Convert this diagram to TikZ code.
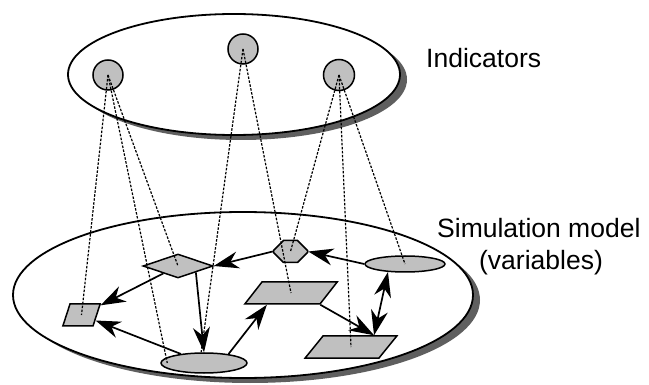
\documentclass[tikz,border=0pt]{standalone}
\usepackage{fontspec}
\setmainfont{Liberation Sans}
\usetikzlibrary{shapes.geometric,shapes.misc,shadows,arrows.meta}
\definecolor{nodegray}{HTML}{C0C0C0}
\definecolor{shadowgray}{HTML}{5F5F5F}
\tikzset{
  bigell/.style={ellipse, draw, line width=1.8pt, fill=white, inner sep=0pt,
    drop shadow={shadow xshift=7pt, shadow yshift=-5pt, fill=shadowgray, opacity=1}},
  var/.style={draw, line width=1.5pt, fill=nodegray, inner sep=0pt},
  para/.style={var, trapezium, trapezium left angle=#1, trapezium right angle=180-#1,
    inner ysep=11pt, minimum size=0pt},
  flow/.style={line width=1.7pt, ->},
  flowboth/.style={line width=1.7pt, <->},
  probe/.style={line width=1.2pt, dash pattern=on 2.5pt off 1.5pt},
  txt/.style={inner sep=0pt, font=\fontsize{26.5}{33}\selectfont}
}
\begin{document}
\begin{tikzpicture}[x=1pt,y=1pt,
  >={Stealth[length=25pt,width=17pt,inset=8pt]}]
\useasboundingbox (0,0) rectangle (649,-385);
% containers
\node[bigell, minimum width=332pt, minimum height=121pt] (top) at (234,-74.5) {};
\node[bigell, minimum width=460pt, minimum height=166pt] (model) at (243,-295) {};
% indicators
\node[var, circle, minimum size=30pt] (i1) at (108,-75) {};
\node[var, circle, minimum size=30pt] (i2) at (243,-49) {};
\node[var, circle, minimum size=31pt] (i3) at (339,-75) {};
% variables
\node[para=72, inner xsep=11.5pt] (lpar) at (81.5,-315) {};
\node[var, diamond, aspect=3, minimum width=70pt, minimum height=24pt] (dia) at (178,-266) {};
\node[var, ellipse, minimum width=86pt, minimum height=20pt] (bell) at (204,-363) {};
\node[para=52, inner xsep=29pt] (mpar) at (291,-293) {};
\node[var, chamfered rectangle, chamfered rectangle xsep=5pt, chamfered rectangle ysep=5pt,
      inner xsep=12pt, inner ysep=6pt] (hex) at (290.5,-251.5) {};
\node[var, ellipse, minimum width=80pt, minimum height=16pt] (rell) at (405,-264) {};
\node[para=51, inner xsep=28pt] (lrpar) at (351,-347) {};
% arrows
\draw[flow] (dia) -- (lpar);
\draw[flow] (bell) -- (lpar);
\draw[flow] (dia.south east) -- (bell.north);
\draw[flow] (bell.20) -- (mpar.-154);
\draw[flow] (hex.west) -- (dia.east);
\draw[flow] (rell.west) -- (hex.east);
\draw[flow] (mpar.bottom right corner) -- (lrpar.27);
\draw[flowboth] (rell.-155) -- (lrpar.27);
% dashed links
\draw[probe] (i1.center) -- (lpar.center);
\draw[probe] (i1.center) -- ([xshift=7pt]bell.west);
\draw[probe] (i1.center) -- (dia.center);
\draw[probe] (i2.center) -- (bell.105);
\draw[probe] (i2.center) -- (mpar.center);
\draw[probe] (i3.center) -- (hex.center);
\draw[probe] (i3.center) -- (lrpar.center);
\draw[probe] (i3.center) -- (rell.center);
% labels
\node[txt, anchor=base west] (ind) at (426,-67.3) {Indicators};
\node[txt, anchor=base west] (sim) at (437,-237.3) {Simulation model};
\node[txt, anchor=base] (vars) at (541,-270) {(variables)};
\end{tikzpicture}
\end{document}
